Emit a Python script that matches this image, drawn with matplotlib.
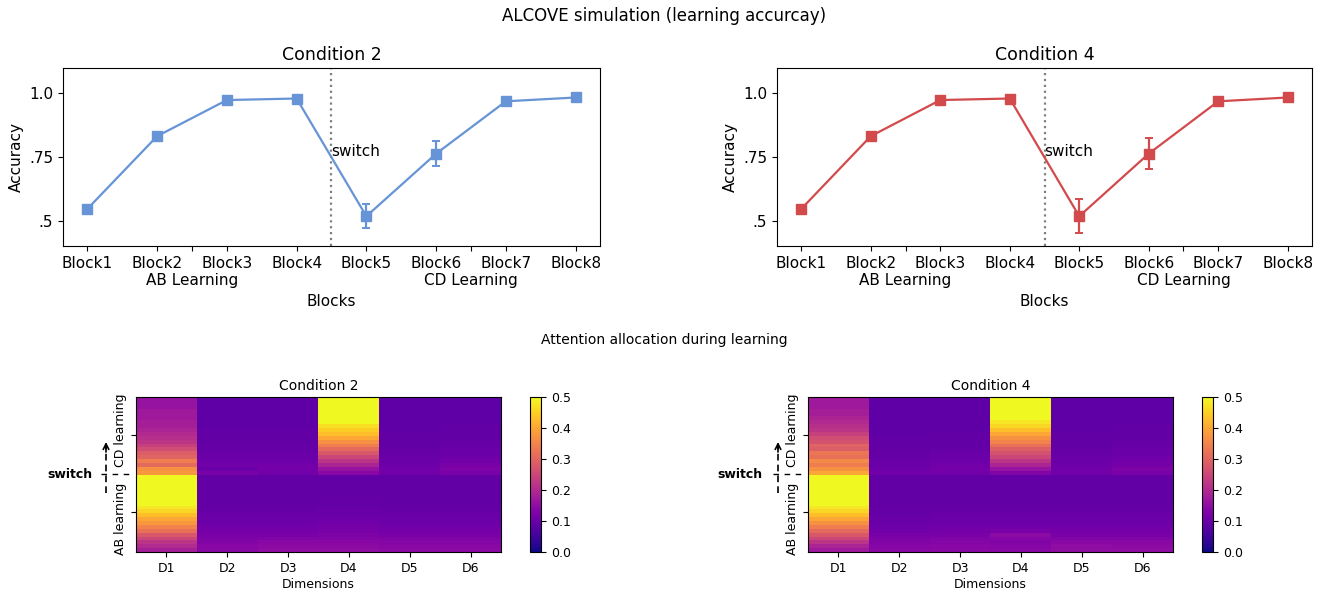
import numpy as np
import matplotlib
matplotlib.use("Agg")
import matplotlib.pyplot as plt
from matplotlib.lines import Line2D

# ---------------- data ----------------
blocks = ["Block1", "Block2", "Block3", "Block4", "Block5", "Block6", "Block7", "Block8"]
phase_labels = ["AB Learning", "CD Learning"]

acc_cond2 = [0.546, 0.832, 0.974, 0.980, 0.517, 0.763, 0.969, 0.984]
err_cond2 = [0.0, 0.0, 0.0, 0.0, 0.047, 0.049, 0.0, 0.0]
acc_cond4 = [0.546, 0.832, 0.974, 0.980, 0.517, 0.763, 0.969, 0.984]
err_cond4 = [0.0, 0.0, 0.0, 0.0, 0.067, 0.061, 0.0, 0.0]

dims = ["D1", "D2", "D3", "D4", "D5", "D6"]
phase_ylabels = ["AB learning", "CD learning"]
cbar_ticks = [0.0, 0.1, 0.2, 0.3, 0.4, 0.5]

# attention per trial row (bottom = start of AB learning, top = end of CD learning)
cond2_D1 = [0.18, 0.20, 0.22, 0.25, 0.28, 0.32, 0.35, 0.38, 0.40, 0.43, 0.46, 0.48, 0.50, 0.51, 0.52, 0.53, 0.54, 0.55, 0.55, 0.56,
            0.38, 0.37, 0.31, 0.34, 0.30, 0.29, 0.26, 0.24, 0.22, 0.21, 0.20, 0.19, 0.18, 0.18, 0.17, 0.17, 0.17, 0.16, 0.16, 0.16]
cond2_D2 = [0.14, 0.14, 0.13, 0.125, 0.12, 0.115, 0.11, 0.105, 0.10, 0.10, 0.095, 0.095, 0.09, 0.09, 0.09, 0.09, 0.09, 0.09, 0.09, 0.09,
            0.12, 0.10, 0.11, 0.105, 0.10, 0.10, 0.095, 0.095, 0.09, 0.09, 0.09, 0.09, 0.085, 0.085, 0.085, 0.085, 0.085, 0.085, 0.085, 0.085]
cond2_D3 = [0.15, 0.145, 0.14, 0.13, 0.12, 0.115, 0.11, 0.105, 0.10, 0.10, 0.095, 0.095, 0.09, 0.09, 0.09, 0.09, 0.09, 0.09, 0.09, 0.09,
            0.11, 0.115, 0.11, 0.105, 0.10, 0.10, 0.095, 0.095, 0.09, 0.09, 0.09, 0.09, 0.085, 0.085, 0.085, 0.085, 0.085, 0.085, 0.085, 0.085]
cond2_D4 = [0.15, 0.145, 0.14, 0.13, 0.125, 0.12, 0.115, 0.11, 0.105, 0.10, 0.10, 0.095, 0.095, 0.095, 0.09, 0.09, 0.09, 0.09, 0.09, 0.09,
            0.14, 0.16, 0.19, 0.22, 0.25, 0.28, 0.31, 0.34, 0.37, 0.40, 0.43, 0.45, 0.47, 0.50, 0.51, 0.52, 0.53, 0.53, 0.54, 0.54]
cond2_D5 = [0.145, 0.14, 0.135, 0.13, 0.12, 0.115, 0.11, 0.105, 0.10, 0.10, 0.095, 0.095, 0.09, 0.09, 0.09, 0.09, 0.09, 0.09, 0.09, 0.09,
            0.11, 0.11, 0.105, 0.10, 0.10, 0.095, 0.095, 0.09, 0.09, 0.09, 0.09, 0.085, 0.085, 0.085, 0.085, 0.085, 0.085, 0.085, 0.085, 0.085]
cond2_D6 = [0.145, 0.14, 0.135, 0.13, 0.12, 0.115, 0.11, 0.105, 0.10, 0.10, 0.095, 0.095, 0.09, 0.09, 0.09, 0.09, 0.09, 0.09, 0.09, 0.09,
            0.12, 0.125, 0.12, 0.11, 0.105, 0.10, 0.10, 0.095, 0.095, 0.09, 0.09, 0.09, 0.09, 0.085, 0.085, 0.085, 0.085, 0.085, 0.085, 0.085]

cond4_D1 = [0.17, 0.19, 0.22, 0.25, 0.28, 0.31, 0.34, 0.37, 0.40, 0.43, 0.46, 0.48, 0.50, 0.51, 0.52, 0.53, 0.54, 0.55, 0.55, 0.56,
            0.40, 0.37, 0.34, 0.36, 0.32, 0.33, 0.29, 0.30, 0.27, 0.26, 0.24, 0.22, 0.21, 0.20, 0.19, 0.18, 0.18, 0.17, 0.17, 0.17]
cond4_D2 = [0.14, 0.135, 0.13, 0.125, 0.12, 0.11, 0.105, 0.10, 0.10, 0.095, 0.095, 0.09, 0.09, 0.09, 0.09, 0.09, 0.09, 0.09, 0.09, 0.09,
            0.11, 0.105, 0.10, 0.10, 0.095, 0.095, 0.09, 0.09, 0.09, 0.09, 0.085, 0.085, 0.085, 0.085, 0.085, 0.085, 0.085, 0.085, 0.085, 0.085]
cond4_D3 = [0.14, 0.14, 0.135, 0.13, 0.12, 0.115, 0.11, 0.105, 0.10, 0.10, 0.095, 0.095, 0.09, 0.09, 0.09, 0.09, 0.09, 0.09, 0.09, 0.09,
            0.11, 0.115, 0.11, 0.105, 0.10, 0.10, 0.095, 0.09, 0.09, 0.09, 0.09, 0.085, 0.085, 0.085, 0.085, 0.085, 0.085, 0.085, 0.085, 0.085]
cond4_D4 = [0.14, 0.135, 0.13, 0.135, 0.145, 0.12, 0.11, 0.105, 0.10, 0.10, 0.095, 0.095, 0.09, 0.09, 0.09, 0.09, 0.09, 0.09, 0.09, 0.09,
            0.13, 0.16, 0.19, 0.22, 0.25, 0.27, 0.29, 0.32, 0.35, 0.37, 0.40, 0.43, 0.46, 0.48, 0.50, 0.51, 0.52, 0.53, 0.53, 0.54]
cond4_D5 = [0.15, 0.15, 0.14, 0.13, 0.12, 0.115, 0.11, 0.105, 0.10, 0.10, 0.095, 0.095, 0.09, 0.09, 0.09, 0.09, 0.09, 0.09, 0.09, 0.09,
            0.11, 0.11, 0.105, 0.10, 0.10, 0.095, 0.095, 0.09, 0.09, 0.09, 0.09, 0.085, 0.085, 0.085, 0.085, 0.085, 0.085, 0.085, 0.085, 0.085]
cond4_D6 = [0.15, 0.145, 0.14, 0.13, 0.12, 0.115, 0.11, 0.105, 0.10, 0.10, 0.095, 0.095, 0.09, 0.09, 0.09, 0.09, 0.09, 0.09, 0.09, 0.09,
            0.12, 0.125, 0.115, 0.11, 0.105, 0.10, 0.10, 0.095, 0.095, 0.09, 0.09, 0.09, 0.09, 0.085, 0.085, 0.085, 0.085, 0.085, 0.085, 0.085]

heat_cond2 = np.column_stack([cond2_D1, cond2_D2, cond2_D3, cond2_D4, cond2_D5, cond2_D6])
heat_cond4 = np.column_stack([cond4_D1, cond4_D2, cond4_D3, cond4_D4, cond4_D5, cond4_D6])

# ---------------- figure ----------------
W, H = 1328, 592
fig = plt.figure(figsize=(W / 100, H / 100), dpi=100)

def fr(x0, y0, x1, y1):
    return [x0 / W, 1 - y1 / H, (x1 - x0) / W, (y1 - y0) / H]

fig.text(0.5, 1 - 16 / H, "ALCOVE simulation (learning accurcay)", ha="center", va="center", fontsize=12)
fig.text(0.5, 1 - 340 / H, "Attention allocation during learning", ha="center", va="center", fontsize=10)

x = np.arange(1, 9)

def line_panel(rect, acc, err, color, title):
    ax = fig.add_axes(rect)
    ax.errorbar(x, acc, yerr=err, color=color, marker="s", markersize=7.5, lw=1.6,
                capsize=3, elinewidth=1.6, capthick=1.4)
    ax.axvline(4.5, color="grey", ls=":", lw=1.6)
    ax.text(4.5, 0.77, "switch", fontsize=11, ha="left", va="center")
    ax.set_ylim(0.4, 1.1)
    ax.set_yticks([0.5, 0.75, 1.0])
    ax.set_yticklabels([".5", ".75", "1.0"])
    ax.set_xticks(x)
    ax.set_xticklabels(blocks)
    ax.set_xticks([2.5, 6.5], minor=True)
    ax.set_xticklabels(phase_labels, minor=True)
    ax.tick_params(axis="both", which="major", labelsize=11)
    ax.tick_params(axis="x", which="minor", labelsize=11, length=3.5, width=0.8, pad=16)
    ax.set_ylabel("Accuracy", fontsize=11)
    ax.set_xlabel("Blocks", fontsize=11, labelpad=4)
    ax.set_title(title, fontsize=12.5)
    return ax

line_panel(fr(63, 68, 600, 246), acc_cond2, err_cond2, "#6694d6", "Condition 2")
line_panel(fr(777, 68, 1312, 246), acc_cond4, err_cond4, "#d24a4c", "Condition 4")

def heat_panel(rect, crect, data, title, text_right, arrow_x, hline_x0, hline_x1):
    ax = fig.add_axes(rect)
    n = data.shape[0]
    im = ax.imshow(data, aspect="auto", origin="lower", cmap="plasma", vmin=0, vmax=0.5,
                   interpolation="nearest")
    ax.set_xticks(np.arange(len(dims)))
    ax.set_xticklabels(dims, fontsize=9)
    ax.set_yticks([(n - 1) * 0.25, (n - 1) * 0.75 + 0.5])
    ax.set_yticklabels([])
    # phase labels beside the ticks
    ax.text(-0.025, 0.213, phase_ylabels[0], transform=ax.transAxes, rotation=90,
            ha="right", va="center", fontsize=9)
    ax.text(-0.025, 0.787, phase_ylabels[1], transform=ax.transAxes, rotation=90,
            ha="right", va="center", fontsize=9)
    ax.set_xlabel("Dimensions", fontsize=9, labelpad=2)
    ax.set_title(title, fontsize=10, pad=5)
    cax = fig.add_axes(crect)
    cb = fig.colorbar(im, cax=cax, ticks=cbar_ticks)
    cb.ax.tick_params(labelsize=9)
    cb.outline.set_linewidth(0.8)
    # switch annotation
    ymid = 1 - 474 / H
    fig.text(text_right / W, ymid, "switch", fontsize=9, fontweight="bold", ha="right", va="center")
    fig.add_artist(Line2D([hline_x0 / W, hline_x1 / W], [ymid, ymid], transform=fig.transFigure,
                          color="black", ls=(0, (4, 4)), lw=1.0))
    fig.add_artist(Line2D([arrow_x / W, arrow_x / W], [1 - 493 / H, 1 - 446 / H], transform=fig.transFigure,
                          color="black", ls=(0, (4, 2.5)), lw=1.2))
    ax.annotate("", xy=(arrow_x / W, 1 - 442 / H), xytext=(arrow_x / W, 1 - 452 / H),
                xycoords="figure fraction", textcoords="figure fraction",
                arrowprops=dict(arrowstyle="->", color="black", lw=1.2, shrinkA=0, shrinkB=0))
    return ax

heat_panel(fr(136, 397, 501, 552), fr(530, 397, 541, 552), heat_cond2, "Condition 2", 92, 106, 101, 134)
heat_panel(fr(808, 397, 1173, 552), fr(1202, 397, 1213, 552), heat_cond4, "Condition 4", 763, 778, 773, 806)

fig.savefig("out.png", dpi=100)
